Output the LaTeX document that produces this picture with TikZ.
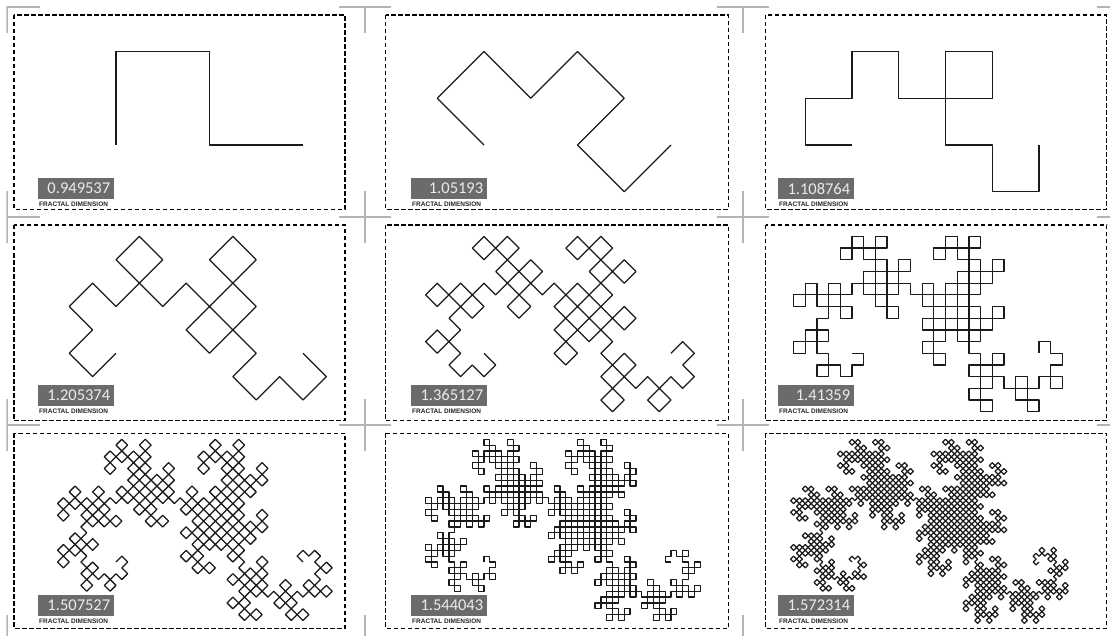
\documentclass[tikz,border=0pt]{standalone}
\usepackage{fontspec}
\usetikzlibrary{lindenmayersystems}
\newfontfamily\numfont{Carlito}
\newfontfamily\capfont{Liberation Sans}
\definecolor{cropgray}{HTML}{B4B4B4}
\definecolor{boxgray}{HTML}{6B6B6B}
\definecolor{numwhite}{HTML}{E8ECEF}
\definecolor{curvecol}{HTML}{1A1A1A}
\pgfdeclarelindenmayersystem{Dragon}{
  \symbol{G}{\pgflsystemdrawforward}
  \rule{F -> F-G}
  \rule{G -> F+G}
}
\begin{document}
\begin{tikzpicture}[x=1pt,y=-1pt,
  cropmark/.style={draw=cropgray, line width=1.4pt},
  panelframe/.style={draw=black, line width=1.35pt, dash pattern=on 4.5pt off 2.5pt},
  dragon/.style={draw=curvecol, line width=1.25pt, line join=round},
  numbox/.style={fill=boxgray, minimum height=21.5pt, text width=68pt, inner xsep=4pt, inner ysep=0pt, align=right, font=\numfont\fontsize{16.5}{16.5}\selectfont, text=numwhite, anchor=north west},
  caplabel/.style={font=\capfont\bfseries\fontsize{6.5}{6.5}\selectfont, text=black!85, inner sep=0pt, anchor=base west}]
\useasboundingbox (0,0) rectangle (1110,636);
\begin{scope}
\clip (6.3,6.3) rectangle (1110,636);
\foreach \gy in {7,217,425,641} {
  \draw[cropmark] (7,\gy) -- (40,\gy) (7,\gy-26) -- (7,\gy+26);
}
\foreach \gx in {365,743,1123} \foreach \gy in {7,217,425,641} {
  \draw[cropmark] (\gx-26,\gy) -- (\gx+26,\gy) (\gx,\gy-26) -- (\gx,\gy+26);
}
\end{scope}
\foreach \i/\xa/\xb/\bx/\sx/\ya/\yb/\by/\cy/\ord/\val in {
 1/14/345/38/116/15/209.3/177.5/145/2/0.949537,
 2/385.5/728.3/411/484/15/209.3/177.5/145/3/1.05193,
 3/765.7/1106.7/778/852/15/209.3/177.5/145/4/1.108764,
 4/14/345/38/116/225/420.7/384.5/353.3/5/1.205374,
 5/385.5/728.3/411/484/225/420.7/384.5/353.3/7/1.365127,
 6/765.7/1106.7/778/852/225/420.7/384.5/353.3/8/1.41359,
 7/14/345/38/116/433.3/628.3/594.5/562/9/1.507527,
 8/385.5/728.3/411/484/433.3/628.3/594.5/562/10/1.544043,
 9/765.7/1106.7/778/852/433.3/628.3/594.5/562/11/1.572314} {
  \draw[panelframe] (\xa,\ya) rectangle (\xb,\yb);
  \node[numbox] (num\i) at (\bx,\by) {\val};
  \node[caplabel] (cap\i) at (\bx+1,\by+29) {FRACTAL DIMENSION};
  \pgfmathsetmacro\stp{187/(sqrt(2)^\ord)}
  \begin{scope}[shift={(\sx,\cy)}, rotate=\ord*45]
    \draw[dragon, l-system={Dragon, axiom=F, order=\ord, step=\stp pt, angle=90}] (0,0) lindenmayer system;
  \end{scope}
}
\end{tikzpicture}
\end{document}
